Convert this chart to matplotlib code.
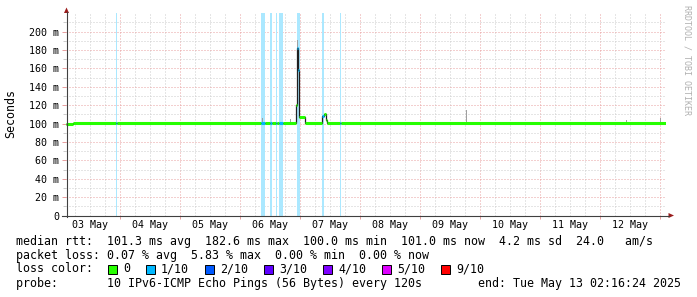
"""
SmokePing latency graph (RRDtool look) redrawn with matplotlib
"""
from datetime import datetime, timedelta
import matplotlib
matplotlib.use("Agg")
import matplotlib.pyplot as plt
from matplotlib.colors import to_rgb
from matplotlib.lines import Line2D
from matplotlib.patches import Polygon, Rectangle

plt.rcParams['font.family'] = ['DejaVu Sans Mono', 'DejaVu Sans']

W, H = 697, 297
START = datetime(2025, 5, 3, 2, 16, 24)
SPAN_H = 240

# median rtt as steps (hours since START, value in ms)
med_edges_h = [0, 2.8, 20.0, 20.4, 78.0, 79.6, 81.6, 82.2, 83.8, 84.4, 85.2, 86.8,
               92.0, 92.4, 92.8, 93.2, 95.4, 102.4, 103.0, 103.8, 104.2,
               109.6, 110.0, 239.8]
med_ms = [100.0, 101.0, 101.0, 101.0, 101.0, 101.0, 101.0, 101.0, 101.0, 101.0,
          101.0, 101.0, 120.0, 182.6, 158.0, 107.6, 101.0, 108.0, 110.6, 104.0,
          101.0, 101.0, 101.0]

# loss periods (hours since START) and loss class index
loss_start_h = [20.0, 78.0, 81.6, 83.8, 85.2, 92.3, 102.4, 109.6]
loss_end_h = [20.4, 79.6, 82.2, 84.4, 86.8, 93.7, 103.2, 110.0]
loss_class = [1, 1, 1, 1, 1, 1, 1, 1]

# smoke (spread of the single pings)
smoke_h = [78.4, 89.6, 92.4, 160.0, 224.0, 237.6]
smoke_lo_ms = [101, 101, 150, 101, 101, 101]
smoke_hi_ms = [106, 105, 191, 115, 104, 106]

loss_labels = ['0', '1/10', '2/10', '3/10', '4/10', '5/10', '9/10']
loss_colors = ['#26ff00', '#00b8ff', '#0059ff', '#5e00ff', '#7e00ff', '#dd00ff', '#ff0000']

rtt_stats = [101.3, 182.6, 100.0, 101.0, 4.2]
am_s = 24.0
loss_stats = [0.07, 5.83, 0.00, 0.00]

MINOR_C = '#cccccc'
MAJOR_C = '#e8a0a0'
AXIS_C = '#404040'
DOTS = (0, (1, 2))


def fx(x):
    return x / W


def fy(y):
    return 1 - y / H


def lighten(c, a=0.33):
    r, g, b = to_rgb(c)
    return (1 - a + a * r, 1 - a + a * g, 1 - a + a * b)


fig = plt.figure(figsize=(W / 100, H / 100), dpi=100)
fig.patch.set_facecolor('white')

ax_left, ax_right, ax_bottom, ax_top = 66, 666, 215.5, 215.5 - 220 * 0.92
ax = fig.add_axes([fx(ax_left), fy(ax_bottom), (ax_right - ax_left) / W,
                   (ax_bottom - ax_top) / H])
ax.set_xlim(0, SPAN_H)
ax.set_ylim(0, 220)
for s in ax.spines.values():
    s.set_visible(False)

# grid
first_midnight = (datetime(2025, 5, 4) - START).total_seconds() / 3600
for k in range(-3, 40):
    t = first_midnight + 6 * k
    if 0 < t < SPAN_H:
        ax.axvline(t, color=MAJOR_C if k % 4 == 0 else MINOR_C, lw=0.72,
                   ls=DOTS, zorder=1)
for v in range(10, 220, 10):
    ax.axhline(v, color=MAJOR_C if v % 20 == 0 else MINOR_C, lw=0.72,
               ls=DOTS, zorder=1)

# loss bars
for t0, t1, lc in zip(loss_start_h, loss_end_h, loss_class):
    ax.axvspan(t0, t1, color=lighten(loss_colors[lc]), lw=0, zorder=2)

# smoke
ax.bar(smoke_h, [hi - lo for lo, hi in zip(smoke_lo_ms, smoke_hi_ms)],
       bottom=smoke_lo_ms, width=0.4, align='edge', color='#a0a0a0', lw=0, zorder=3)

# median: thin dark step line, then loss coloured segments
ax.stairs(med_ms, med_edges_h, baseline=None, color='#202020', lw=0.9, zorder=4)
seg_colors = []
for t0, t1 in zip(med_edges_h[:-1], med_edges_h[1:]):
    mid = (t0 + t1) / 2
    lc = 0
    for a, b, c in zip(loss_start_h, loss_end_h, loss_class):
        if a <= mid <= b:
            lc = c
    seg_colors.append(loss_colors[lc])
ax.hlines(med_ms, med_edges_h[:-1], med_edges_h[1:], colors=seg_colors,
          lw=2.2, zorder=5)

# ticks and labels
yt = list(range(0, 201, 20))
ax.set_yticks(yt, ['0' if v == 0 else f'{v} m' for v in yt])
ax.set_yticks(list(range(10, 220, 20)), minor=True)
ax.tick_params(axis='y', which='major', length=3, width=0.72, color=MAJOR_C,
               pad=2, labelsize=7.2)
ax.tick_params(axis='y', which='minor', length=2, width=0.72, color=MINOR_C)

noons = [first_midnight - 12 + 24 * k for k in range(10)]
day_names = [(START + timedelta(days=k)).strftime('%d May') for k in range(10)]
ax.set_xticks(noons, day_names)
ax.set_xticks([first_midnight + 24 * k for k in range(10)], minor=True)
ax.tick_params(axis='x', which='major', length=0, pad=3.5, labelsize=7.2)
ax.tick_params(axis='x', which='minor', length=2, width=0.72, color=MAJOR_C)

# axis lines with arrows
fig.add_artist(Line2D([fx(66.5), fx(66.5)], [fy(217), fy(12)], color=AXIS_C, lw=0.8))
fig.add_artist(Line2D([fx(62), fx(669)], [fy(215.5), fy(215.5)], color=AXIS_C, lw=0.8))
fig.add_artist(Polygon([(fx(66.5), fy(7.5)), (fx(64), fy(13)), (fx(69), fy(13))],
                       closed=True, color='#9b1c1c', lw=0))
fig.add_artist(Polygon([(fx(674), fy(215.5)), (fx(668.5), fy(213)), (fx(668.5), fy(218))],
                       closed=True, color='#9b1c1c', lw=0))

fig.text(fx(11), fy(114), 'Seconds', rotation=90, ha='center', va='center', fontsize=8.4)
fig.text(fx(687), fy(60), 'RRDTOOL / TOBI OETIKER', rotation=270, ha='center',
         va='center', fontsize=6, color='#b0b0b0')

# legend
LEG = 8.4
fig.text(fx(16), fy(244.5),
         'median rtt:  {:.1f} ms avg  {:.1f} ms max  {:.1f} ms min  {:.1f} ms now  '
         '{:.1f} ms sd  {:.1f}   am/s'.format(*rtt_stats, am_s),
         fontsize=LEG, va='baseline')
fig.text(fx(16), fy(258.5),
         'packet loss: {:.2f} % avg  {:.2f} % max  {:.2f} % min  {:.2f} % now'.format(*loss_stats),
         fontsize=LEG, va='baseline')
fig.text(fx(16), fy(272.5), 'loss color:', fontsize=LEG, va='baseline')
x = 108
for lab, col in zip(loss_labels, loss_colors):
    fig.add_artist(Rectangle((fx(x), fy(273.5)), 9 / W, 9 / H, facecolor=col,
                             edgecolor='black', lw=0.7))
    fig.text(fx(x + 15), fy(272.5), lab, fontsize=LEG, va='baseline')
    x += 15 + 7 * len(lab) + 16
fig.text(fx(16), fy(286.5), 'probe:       10 IPv6-ICMP Echo Pings (56 Bytes) every 120s',
         fontsize=LEG, va='baseline')
fig.text(fx(681), fy(286.5), 'end: ' + (START + timedelta(hours=SPAN_H)).strftime('%a %b %d %H:%M:%S %Y'),
         fontsize=LEG, va='baseline', ha='right')

fig.savefig('out.png', dpi=100)
